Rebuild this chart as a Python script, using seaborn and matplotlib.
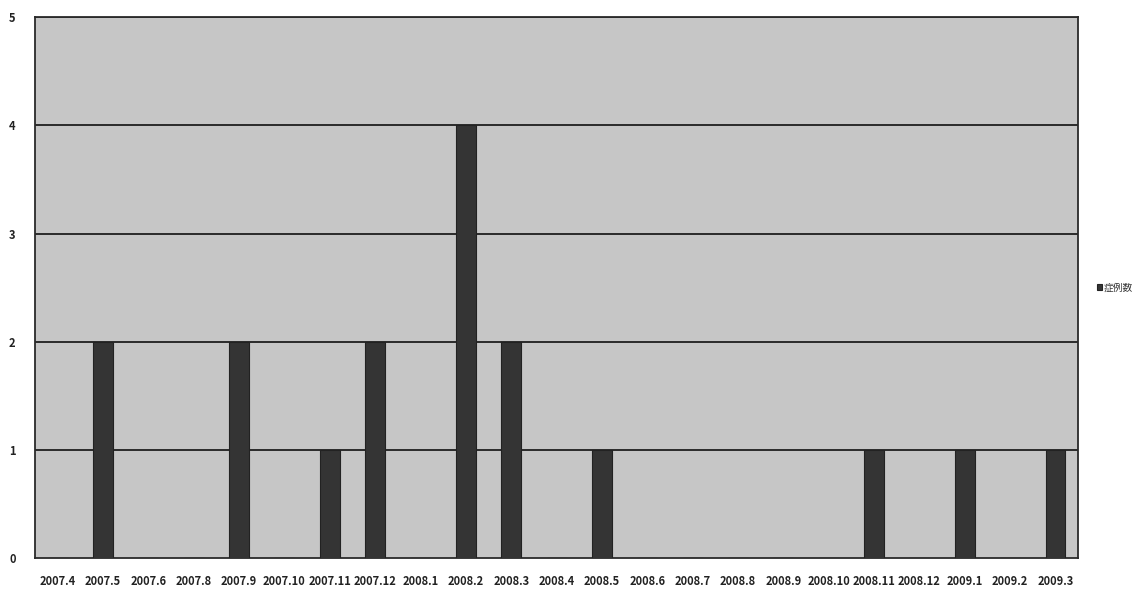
import matplotlib
matplotlib.use("Agg")
import matplotlib.pyplot as plt
import numpy as np
import pandas as pd
import seaborn as sns

months = ["2007.4", "2007.5", "2007.6", "2007.8", "2007.9", "2007.10", "2007.11",
          "2007.12", "2008.1", "2008.2", "2008.3", "2008.4", "2008.5", "2008.6",
          "2008.7", "2008.8", "2008.9", "2008.10", "2008.11", "2008.12",
          "2009.1", "2009.2", "2009.3"]
cases = [0, 2, 0, 0, 2, 0, 1, 2, 0, 4, 2, 0, 1, 0, 0, 0, 0, 0, 1, 0, 1, 0, 1]
series_name = "症例数"
y_ticks = [0, 1, 2, 3, 4, 5]

sns.set_theme(style="white")
plt.rcParams["font.family"] = ["Noto Sans CJK JP", "DejaVu Sans"]

df = pd.DataFrame({"month": months, series_name: cases})

fig = plt.figure(figsize=(11.47, 5.92), dpi=100)
ax = fig.add_axes([0.0305, 0.0574, 0.9095, 0.9136])
ax.set_facecolor("#c6c6c6")

sns.barplot(data=df, x="month", y=series_name, color="#343434", width=0.44,
            saturation=1, ax=ax, zorder=3, edgecolor="#222222", linewidth=0.8,
            label=series_name)

ax.set_ylim(0, 5)
ax.set_xlim(-0.5, len(months) - 0.5)
ax.set_yticks(y_ticks)
ax.set_yticklabels([str(t) for t in y_ticks], fontsize=8, fontweight="bold",
                   color="#222222")
ax.set_xticks(range(len(months)))
ax.set_xticklabels(months, fontsize=8, fontweight="bold", color="#222222")
ax.tick_params(axis="x", which="major", length=0, pad=12)
ax.tick_params(axis="y", which="major", length=0, pad=14)
ax.set_xticks(np.arange(0.5, len(months) - 0.5, 1), minor=True)
ax.tick_params(axis="x", which="minor", direction="in", length=3,
               width=0.8, color="#333333")
ax.set_xlabel("")
ax.set_ylabel("")

for t in y_ticks[1:]:
    ax.axhline(t, color="#1e1e1e", linewidth=1.3, zorder=2)

for side in ["left", "bottom", "top", "right"]:
    ax.spines[side].set_visible(True)
    ax.spines[side].set_color("#2a2a2a")
    ax.spines[side].set_linewidth(1.3)

leg = ax.legend(loc="center left", bbox_to_anchor=(1.01, 0.5), frameon=False,
                fontsize=7, handlelength=0.5, handleheight=0.5,
                handletextpad=0.2)
for txt in leg.get_texts():
    txt.set_color("#333333")

fig.savefig("out.png", dpi=100, facecolor="white")
